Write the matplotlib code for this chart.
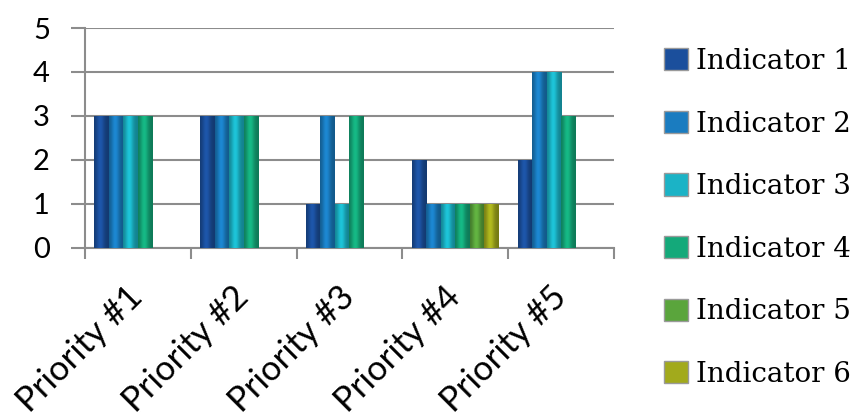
import numpy as np
import matplotlib.pyplot as plt
import matplotlib.colors as mcolors
from matplotlib.patches import Patch
from matplotlib.transforms import ScaledTranslation

# Priorities (categories) and the score of each indicator
priorities = ['Priority #1', 'Priority #2', 'Priority #3', 'Priority #4', 'Priority #5']
indicators = ['Indicator 1', 'Indicator 2', 'Indicator 3',
              'Indicator 4', 'Indicator 5', 'Indicator 6']
ind1 = [3, 3, 1, 2, 2]
ind2 = [3, 3, 3, 1, 4]
ind3 = [3, 3, 1, 1, 4]
ind4 = [3, 3, 3, 1, 3]
ind5 = [0, 0, 0, 1, 0]
ind6 = [0, 0, 0, 1, 0]
series = [ind1, ind2, ind3, ind4, ind5, ind6]
colores = ['#1b4f9c', '#1a7cc0', '#1bb3c6', '#14a97a', '#5aa53c', '#a2aa1c']

fig = plt.figure(figsize=(8.64, 4.18), dpi=100)
ax = fig.add_axes([0.098, 0.407, 0.613, 0.526])


def sombreado(color):
    # horizontal shading: darker at the edges, lighter just left of centre
    rgb = np.array(mcolors.to_rgb(color))
    t = np.linspace(0, 1, 40)
    f = 0.72 + 0.38 * np.exp(-((t - 0.42) / 0.28) ** 2)
    fila = np.clip(rgb[None, :] * f[:, None], 0, 1)
    return fila[None, :, :]


x = np.arange(len(priorities))
ancho = 0.137
for i, (vals, c) in enumerate(zip(series, colores)):
    pos = x + (i - 2.5) * ancho
    barras = ax.bar(pos, vals, width=ancho, color=c, edgecolor='none', zorder=3)
    img = sombreado(c)
    for b in barras:
        h = b.get_height()
        if h <= 0:
            continue
        x0 = b.get_x()
        ax.imshow(img, extent=(x0, x0 + b.get_width(), 0, h), aspect='auto',
                  interpolation='bilinear', zorder=4)

ax.set_xlim(-0.5, len(priorities) - 0.5)
ax.set_ylim(0, 5)
ax.set_yticks(range(6))
ax.yaxis.grid(True, color='#8c8c8c', lw=1.5, zorder=0)

# ticks at the category boundaries; the group labels are placed by hand below
ax.set_xticks(np.arange(len(priorities) + 1) - 0.5)
ax.set_xticklabels([])
ax.tick_params(axis='x', which='major', length=8, width=1.5, color='#8c8c8c')
ax.tick_params(axis='y', length=10, width=1.5, color='#8c8c8c',
               labelsize=21, pad=15)
for t in ax.get_yticklabels():
    t.set_family('Lato')

desplaza = ScaledTranslation(0.0, -0.44, fig.dpi_scale_trans)
for xi, nombre in zip(x, priorities):
    ax.text(xi, 0, nombre, transform=ax.get_xaxis_transform() + desplaza,
            rotation=45, rotation_mode='anchor', ha='right', va='center',
            fontsize=25, family='Lato')

for s in ['top', 'right']:
    ax.spines[s].set_visible(False)
for s in ['left', 'bottom']:
    ax.spines[s].set_color('#8c8c8c')
    ax.spines[s].set_linewidth(1.5)

handles = [Patch(facecolor=c, edgecolor='#9a9a9a', label=n)
           for c, n in zip(colores, indicators)]
fig.legend(handles=handles, loc='upper left', bbox_to_anchor=(0.74, 0.945),
           frameon=False, prop={'family': 'DejaVu Serif', 'size': 20},
           handlelength=0.85, handleheight=0.85, handletextpad=0.3,
           labelspacing=1.28)

fig.savefig('out.png', dpi=100)
